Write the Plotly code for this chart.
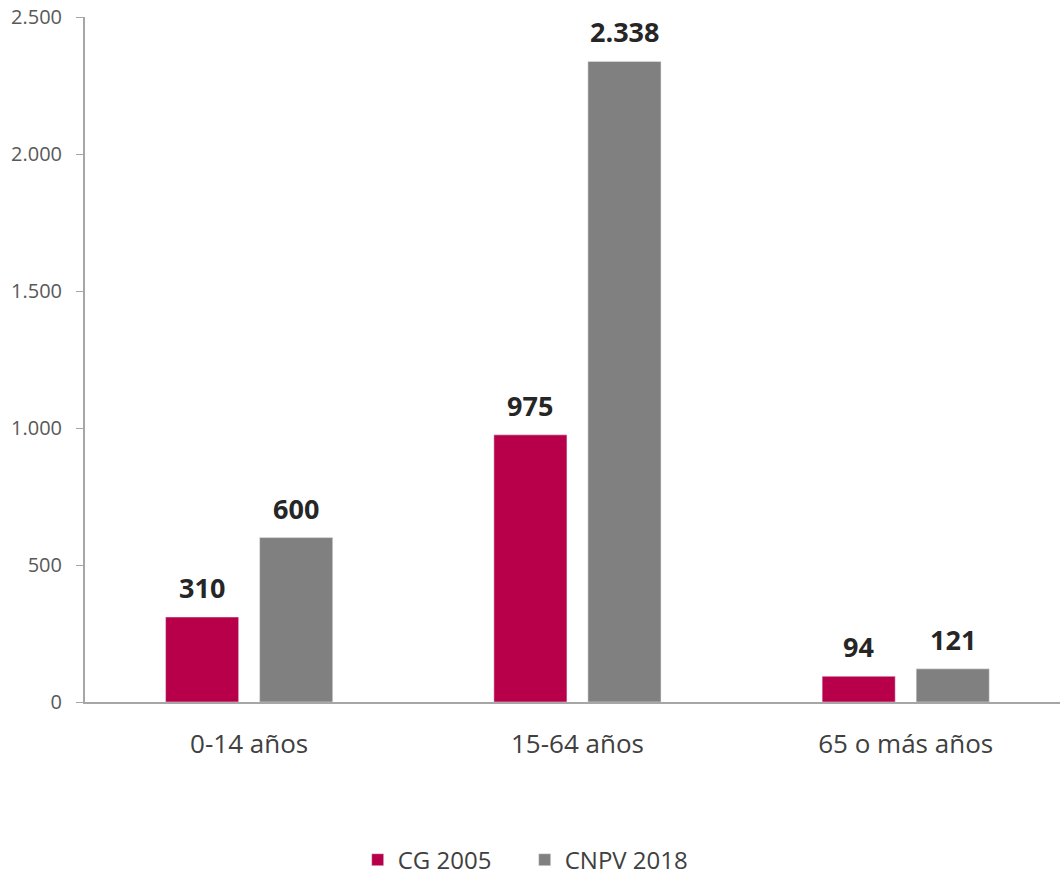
import plotly.graph_objects as go

categorias = ["0-14 años", "15-64 años", "65 o más años"]
cg_2005 = [310, 975, 94]
cnpv_2018 = [600, 2338, 121]

series = [("CG 2005", cg_2005, "#B8004A", -47), ("CNPV 2018", cnpv_2018, "#808080", 47)]

fig = go.Figure()
for nombre, valores, color, desplaz in series:
    fig.add_trace(go.Bar(x=categorias, y=valores, name=nombre, marker_color=color))
    # etiquetas de datos encima de cada barra
    for cat, v in zip(categorias, valores):
        fig.add_annotation(
            x=cat, y=v, text="<b>" + f"{v:,}".replace(",", ".") + "</b>",
            showarrow=False, xshift=desplaz, yanchor="bottom", yshift=9,
            font=dict(size=27, color="#262626", family="Open Sans"),
        )

fig.update_layout(
    width=1060, height=875,
    margin=dict(l=85, r=0, t=17, b=173),
    paper_bgcolor="white", plot_bgcolor="white",
    font=dict(family="Open Sans", color="#404040"),
    separators=",.",
    barmode="group", bargap=0.427, bargroupgap=0.223,
    showlegend=True,
    legend=dict(orientation="h", xref="container", x=0.495, xanchor="center",
                yref="container", y=0.017, yanchor="middle",
                entrywidth=122, font=dict(size=24, color="#404040")),
)
fig.update_xaxes(
    range=[-0.5, 2.47], automargin=False,
    showline=True, linecolor="#A6A6A6", linewidth=2,
    ticks="", ticklabelstandoff=18, tickfont=dict(size=26, color="#404040"),
)
fig.update_yaxes(
    range=[0, 2500], tickvals=[0, 500, 1000, 1500, 2000, 2500], tickformat=",",
    automargin=False, showgrid=False, zeroline=False, ticklabeloverflow="allow",
    showline=True, linecolor="#A6A6A6", linewidth=2,
    ticks="outside", ticklen=7, tickcolor="#A6A6A6", ticklabelstandoff=10,
    tickfont=dict(size=20, color="#595959"),
)

# quitar el margen por defecto del body para que el gráfico ocupe toda la ventana
fig.write_html("out.html", config={"displayModeBar": False},
               post_script="document.body.style.margin='0';")
